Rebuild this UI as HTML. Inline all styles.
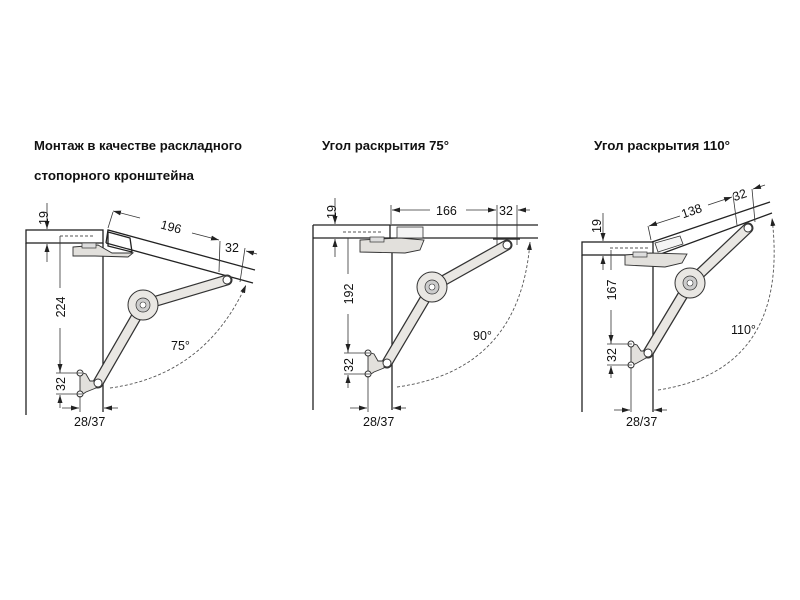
<!DOCTYPE html>
<html><head><meta charset="utf-8"><style>
html,body{margin:0;padding:0;background:#fff;}
svg{display:block;}
text{font-family:"Liberation Sans",sans-serif;fill:#111;}
.t{font-weight:bold;font-size:13px;}
.d{font-size:12.5px;}
.l{stroke:#222;stroke-width:1.3;fill:none;}
.th{stroke:#333;stroke-width:0.8;fill:none;}
.da{stroke:#555;stroke-width:0.9;fill:none;stroke-dasharray:3,2;}
.ao{stroke:#333;stroke-width:11;stroke-linecap:round;fill:none;}
.ai{stroke:#e9e7e3;stroke-width:8.5;stroke-linecap:round;fill:none;}
</style></head><body>
<svg width="800" height="600" viewBox="0 0 800 600" xmlns="http://www.w3.org/2000/svg">
<defs>
<marker id="ar" markerWidth="8" markerHeight="6" refX="8" refY="3" orient="auto" markerUnits="userSpaceOnUse"><path d="M0,0.5 L8,3 L0,5.5 z" fill="#222"/></marker>
</defs>
<text class="t" x="34" y="150" textLength="208" lengthAdjust="spacingAndGlyphs">Монтаж в качестве раскладного</text>
<text class="t" x="34" y="180" textLength="160" lengthAdjust="spacingAndGlyphs">стопорного кронштейна</text>
<text class="t" x="322" y="150" textLength="127" lengthAdjust="spacingAndGlyphs">Угол раскрытия 75°</text>
<text class="t" x="594" y="150" textLength="136" lengthAdjust="spacingAndGlyphs">Угол раскрытия 110°</text>

<!-- Diagram 1 -->
<g>
<rect x="26" y="230" width="77" height="13" class="l"/>
<line x1="26" y1="243" x2="26" y2="415" class="l"/>
<line x1="103" y1="243" x2="103" y2="412" class="l"/>
<line x1="60" y1="236" x2="95" y2="236" class="da"/>
<polyline points="106,243 108,230 255,270" class="l"/>
<line x1="106" y1="243" x2="253" y2="283" class="l"/>
<path d="M108,232 L130,238 L132,252 L108,246z" class="l" fill="#f4f4f4"/>
<path d="M73,247 L98,245 L112,253 L133,253 L128,257 L95,256 L73,256z" fill="#e2e0dc" stroke="#333" stroke-width="0.9"/>
<rect x="82" y="243" width="14" height="5" fill="#ddd" stroke="#333" stroke-width="0.7"/>
<polyline points="98,383 143,305 227,280" class="ao"/>
<polyline points="98,383 143,305 227,280" class="ai"/>
<circle cx="143" cy="305" r="15" fill="#e9e7e3" stroke="#333"/>
<circle cx="143" cy="305" r="7" fill="#ccc" stroke="#333" stroke-width="0.7"/>
<circle cx="143" cy="305" r="3" fill="#fff" stroke="#333" stroke-width="0.6"/>
<circle cx="227" cy="280" r="4" fill="#fff" stroke="#333"/>
<path d="M80,372 L86,374 L90,381 L96,381 L96,388 L86,392 L80,396z" fill="#e2e0dc" stroke="#333" stroke-width="0.9"/>
<circle cx="80" cy="373" r="3" fill="#fff" stroke="#333"/><circle cx="80" cy="394" r="3" fill="#fff" stroke="#333"/>
<circle cx="98" cy="383" r="4" fill="#fff" stroke="#333"/>
<line x1="47" y1="203" x2="47" y2="229" class="th" marker-end="url(#ar)"/>
<line x1="47" y1="262" x2="47" y2="244" class="th" marker-end="url(#ar)"/>
<text class="d" transform="translate(48,218) rotate(-90)" text-anchor="middle">19</text>
<line x1="60" y1="236" x2="60" y2="288" class="th"/><line x1="60" y1="328" x2="60" y2="373" class="th"/>
<text class="d" transform="translate(65,307) rotate(-90)" text-anchor="middle">224</text>
<line x1="56" y1="373" x2="82" y2="373" class="th"/><line x1="56" y1="394" x2="82" y2="394" class="th"/>
<line x1="60" y1="360" x2="60" y2="372" class="th" marker-end="url(#ar)"/>
<line x1="60" y1="408" x2="60" y2="395" class="th" marker-end="url(#ar)"/>
<text class="d" transform="translate(65,384) rotate(-90)" text-anchor="middle">32</text>
<line x1="80" y1="396" x2="80" y2="412" class="th"/>
<line x1="62" y1="408" x2="79" y2="408" class="th" marker-end="url(#ar)"/>
<line x1="118" y1="408" x2="104" y2="408" class="th" marker-end="url(#ar)"/>
<text class="d" x="74" y="426">28/37</text>
<line x1="108" y1="228" x2="113" y2="212" class="th"/>
<line x1="140" y1="218" x2="113" y2="211" class="th" marker-end="url(#ar)"/>
<line x1="192" y1="233" x2="219" y2="240" class="th" marker-end="url(#ar)"/>
<text class="d" transform="translate(170,231) rotate(15)" text-anchor="middle">196</text>
<line x1="220" y1="241" x2="219" y2="272" class="th"/>
<line x1="245" y1="248" x2="240" y2="282" class="th"/>
<line x1="257" y1="254" x2="246" y2="251" class="th" marker-end="url(#ar)"/>
<text class="d" x="225" y="252">32</text>
<path d="M110,388 Q205,375 246,285" class="da" marker-end="url(#ar)"/>
<text class="d" x="171" y="350">75°</text>
</g>

<!-- Diagram 2 -->
<g>
<line x1="313" y1="225" x2="538" y2="225" class="l"/>
<line x1="313" y1="238" x2="538" y2="238" class="l"/>
<line x1="313" y1="225" x2="313" y2="410" class="l"/>
<line x1="390" y1="225" x2="390" y2="238" class="l"/>
<line x1="392" y1="238" x2="392" y2="410" class="l"/>
<line x1="343" y1="232" x2="382" y2="232" class="da"/>
<rect x="397" y="227" width="26" height="11" fill="#f4f4f4" stroke="#333" stroke-width="0.8"/>
<path d="M360,240 L400,238 L424,240 L420,250 L405,253 L360,252z" fill="#e2e0dc" stroke="#333" stroke-width="0.9"/>
<rect x="370" y="237" width="14" height="5" fill="#ddd" stroke="#333" stroke-width="0.7"/>
<polyline points="387,363 432,287 507,245" class="ao"/>
<polyline points="387,363 432,287 507,245" class="ai"/>
<circle cx="432" cy="287" r="15" fill="#e9e7e3" stroke="#333"/>
<circle cx="432" cy="287" r="7" fill="#ccc" stroke="#333" stroke-width="0.7"/>
<circle cx="432" cy="287" r="3" fill="#fff" stroke="#333" stroke-width="0.6"/>
<line x1="493" y1="239" x2="520" y2="239" stroke="#333" stroke-width="1.5"/>
<circle cx="507" cy="245" r="4" fill="#fff" stroke="#333"/>
<path d="M368,352 L374,354 L378,361 L384,361 L384,368 L374,372 L368,376z" fill="#e2e0dc" stroke="#333" stroke-width="0.9"/>
<circle cx="368" cy="353" r="3" fill="#fff" stroke="#333"/><circle cx="368" cy="374" r="3" fill="#fff" stroke="#333"/>
<circle cx="387" cy="363" r="4" fill="#fff" stroke="#333"/>
<line x1="335" y1="198" x2="335" y2="224" class="th" marker-end="url(#ar)"/>
<line x1="335" y1="257" x2="335" y2="239" class="th" marker-end="url(#ar)"/>
<text class="d" transform="translate(336,212) rotate(-90)" text-anchor="middle">19</text>
<line x1="348" y1="238" x2="348" y2="274" class="th"/><line x1="348" y1="314" x2="348" y2="353" class="th"/>
<text class="d" transform="translate(353,294) rotate(-90)" text-anchor="middle">192</text>
<line x1="344" y1="353" x2="370" y2="353" class="th"/><line x1="344" y1="374" x2="370" y2="374" class="th"/>
<line x1="348" y1="340" x2="348" y2="352" class="th" marker-end="url(#ar)"/>
<line x1="348" y1="388" x2="348" y2="375" class="th" marker-end="url(#ar)"/>
<text class="d" transform="translate(353,365) rotate(-90)" text-anchor="middle">32</text>
<line x1="368" y1="376" x2="368" y2="412" class="th"/>
<line x1="350" y1="408" x2="367" y2="408" class="th" marker-end="url(#ar)"/>
<line x1="406" y1="408" x2="393" y2="408" class="th" marker-end="url(#ar)"/>
<text class="d" x="363" y="426">28/37</text>
<line x1="391" y1="205" x2="391" y2="224" class="th"/>
<line x1="497" y1="205" x2="497" y2="245" class="th"/>
<line x1="517" y1="205" x2="517" y2="245" class="th"/>
<line x1="430" y1="210" x2="392" y2="210" class="th" marker-end="url(#ar)"/>
<line x1="466" y1="210" x2="496" y2="210" class="th" marker-end="url(#ar)"/>
<text class="d" x="436" y="215">166</text>
<text class="d" x="499" y="215">32</text>
<line x1="530" y1="210" x2="518" y2="210" class="th" marker-end="url(#ar)"/>
<path d="M397,387 Q520,370 530,242" class="da" marker-end="url(#ar)"/>
<text class="d" x="473" y="340">90°</text>
</g>

<!-- Diagram 3 -->
<g>
<rect x="582" y="242" width="71" height="13" class="l"/>
<line x1="582" y1="255" x2="582" y2="412" class="l"/>
<line x1="653" y1="255" x2="653" y2="412" class="l"/>
<line x1="610" y1="248" x2="650" y2="248" class="da"/>
<line x1="652" y1="242" x2="770" y2="202" class="l"/>
<line x1="658" y1="255" x2="772" y2="213" class="l"/>
<path d="M655,243 L680,236 L683,244 L658,252z" fill="#f4f4f4" stroke="#333" stroke-width="0.8"/>
<path d="M625,255 L650,253 L687,254 L682,263 L665,267 L625,265z" fill="#e2e0dc" stroke="#333" stroke-width="0.9"/>
<rect x="633" y="252" width="14" height="5" fill="#ddd" stroke="#333" stroke-width="0.7"/>
<polyline points="648,353 690,283 748,228" class="ao"/>
<polyline points="648,353 690,283 748,228" class="ai"/>
<circle cx="690" cy="283" r="15" fill="#e9e7e3" stroke="#333"/>
<circle cx="690" cy="283" r="7" fill="#ccc" stroke="#333" stroke-width="0.7"/>
<circle cx="690" cy="283" r="3" fill="#fff" stroke="#333" stroke-width="0.6"/>
<circle cx="748" cy="228" r="4" fill="#fff" stroke="#333"/>
<path d="M631,343 L637,345 L641,351 L646,351 L646,358 L637,363 L631,366z" fill="#e2e0dc" stroke="#333" stroke-width="0.9"/>
<circle cx="631" cy="344" r="3" fill="#fff" stroke="#333"/><circle cx="631" cy="365" r="3" fill="#fff" stroke="#333"/>
<circle cx="648" cy="353" r="4" fill="#fff" stroke="#333"/>
<line x1="603" y1="213" x2="603" y2="241" class="th" marker-end="url(#ar)"/>
<line x1="603" y1="270" x2="603" y2="256" class="th" marker-end="url(#ar)"/>
<text class="d" transform="translate(601,226) rotate(-90)" text-anchor="middle">19</text>
<line x1="611" y1="250" x2="611" y2="270" class="th"/><line x1="611" y1="310" x2="611" y2="344" class="th"/>
<text class="d" transform="translate(616,290) rotate(-90)" text-anchor="middle">167</text>
<line x1="607" y1="344" x2="632" y2="344" class="th"/><line x1="607" y1="365" x2="632" y2="365" class="th"/>
<line x1="611" y1="332" x2="611" y2="343" class="th" marker-end="url(#ar)"/>
<line x1="611" y1="378" x2="611" y2="366" class="th" marker-end="url(#ar)"/>
<text class="d" transform="translate(616,355) rotate(-90)" text-anchor="middle">32</text>
<line x1="631" y1="367" x2="631" y2="412" class="th"/>
<line x1="614" y1="410" x2="630" y2="410" class="th" marker-end="url(#ar)"/>
<line x1="667" y1="410" x2="654" y2="410" class="th" marker-end="url(#ar)"/>
<text class="d" x="626" y="426">28/37</text>
<line x1="651" y1="240" x2="648" y2="226" class="th"/>
<line x1="680" y1="216" x2="649" y2="226" class="th" marker-end="url(#ar)"/>
<line x1="708" y1="205" x2="732" y2="197" class="th" marker-end="url(#ar)"/>
<text class="d" transform="translate(693,215) rotate(-19)" text-anchor="middle">138</text>
<line x1="733" y1="195" x2="737" y2="225" class="th"/>
<line x1="752" y1="189" x2="755" y2="222" class="th"/>
<line x1="765" y1="185" x2="753" y2="189" class="th" marker-end="url(#ar)"/>
<text class="d" transform="translate(741,199) rotate(-19)" text-anchor="middle">32</text>
<path d="M658,390 Q790,370 772,218" class="da" marker-end="url(#ar)"/>
<text class="d" x="731" y="334">110°</text>
</g>
</svg>
</body></html>
